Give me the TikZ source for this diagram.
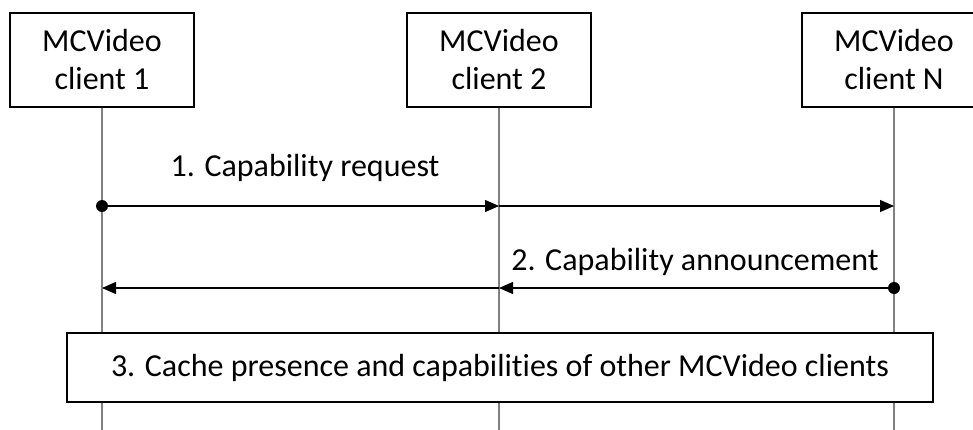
\documentclass[tikz,border=0pt]{standalone}
\usepackage{fontspec}
\setmainfont[Ligatures={NoCommon}]{Carlito}
\usetikzlibrary{arrows.meta}
\begin{document}
\begin{tikzpicture}[x=1pt,y=-1pt,
  every node/.style={font=\fontsize{32}{38}\selectfont, inner sep=0pt},
  entity/.style={draw=black, line width=1.2pt, fill=white, minimum width=184pt, minimum height=94pt, align=center},
  lifeline/.style={draw=black!50, line width=1.8pt},
  msg/.style={draw=black, line width=1.3pt, -{Triangle[length=14pt,width=12pt]}},
  dot/.style={circle, fill=black, minimum size=12pt, inner sep=0pt},
  action/.style={draw=black, line width=1.2pt, fill=white, minimum width=866pt, minimum height=69pt}]
\clip (0,0) rectangle (973,430);
\fill[white] (0,0) rectangle (973,430);
\node[entity] (c1) at (102,60) {MCVideo\\client 1};
\node[entity] (c2) at (499,60) {MCVideo\\client 2};
\node[entity] (cN) at (894,60) {MCVideo\\client N};
\coordinate (e1) at (102,430);
\coordinate (e2) at (499,430);
\coordinate (eN) at (894,430);
\draw[lifeline] (c1.south) -- (e1);
\draw[lifeline] (c2.south) -- (e2);
\draw[lifeline] (cN.south) -- (eN);
\coordinate (a1) at (102,206);
\coordinate (a2) at (499,206);
\coordinate (aN) at (894,206);
\coordinate (b1) at (102,288);
\coordinate (b2) at (499,288);
\coordinate (bN) at (894,288);
\draw[msg] (a1) -- (a2);
\draw[msg] (a2) -- (aN);
\draw[msg] (bN) -- (b2);
\draw[msg] (b2) -- (b1);
\node[dot] (d1) at (a1) {};
\node[dot] (d2) at (bN) {};
\node[anchor=base] (t1) at (305,177) {1. Capability request};
\node[anchor=base] (t2) at (695,270) {2. Capability announcement};
\node[action] (cache) at (500,367.5) {3. Cache presence and capabilities of other MCVideo clients};
\end{tikzpicture}
\end{document}
